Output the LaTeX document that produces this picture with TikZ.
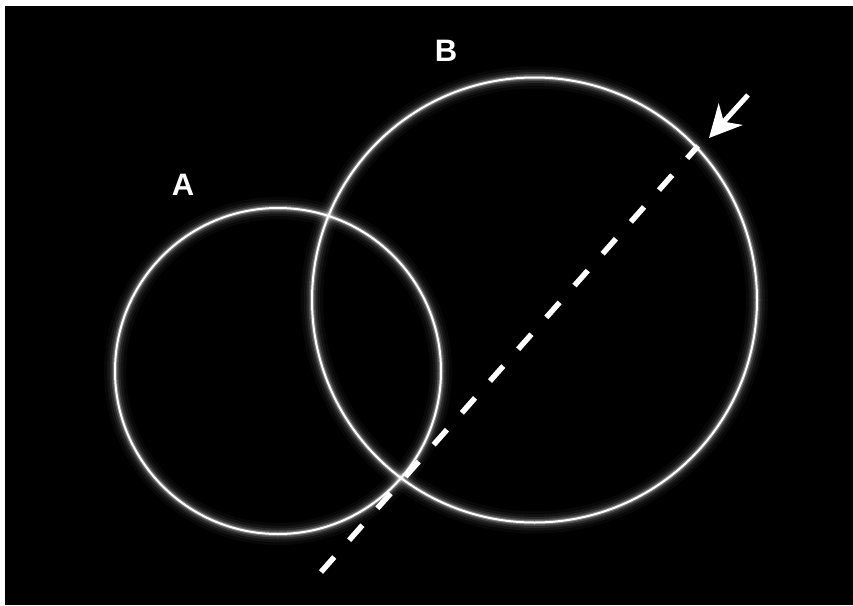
\documentclass[tikz,border=0pt]{standalone}
\usepackage{fontspec}
\setmainfont{Liberation Sans}
\usepackage{tikz}
\usetikzlibrary{arrows.meta}

\begin{document}
\begin{tikzpicture}[
  x=1pt, y=-1pt,
  ring/.style={circle, draw=white, line width=2pt, inner sep=0pt, outer sep=0pt,
               preaction={draw=white, line width=22pt, draw opacity=0.03},
               preaction={draw=white, line width=16pt, draw opacity=0.05},
               preaction={draw=white, line width=11pt, draw opacity=0.09},
               preaction={draw=white, line width=7pt, draw opacity=0.16},
               preaction={draw=white, line width=4pt, draw opacity=0.3}},
  lbl/.style={text=white, font=\bfseries\fontsize{31}{31}\selectfont, inner sep=0pt},
  cut/.style={draw=white, line width=5.5pt, dash pattern=on 20pt off 22.5pt},
  arr/.style={-{Stealth[length=32pt, width=32pt, inset=10pt]}, draw=white, line width=5pt}
]
  \useasboundingbox (0,0) rectangle (853,605);
  \fill[white] (0,0) rectangle (853,605);
  \fill[black] (5,6) rectangle (853,605);

  \node[ring, minimum size=326pt] (circA) at (278,371) {};
  \node[ring, minimum size=445pt] (circB) at (534.5,300) {};

  \node[lbl] (labA) at (183,185) {A};
  \node[lbl] (labB) at (446,51) {B};

  \coordinate (cutlo) at (321,572);
  \coordinate (cuthi) at (698,146);
  \draw[cut] (cutlo) -- (cuthi);

  \coordinate (arrtail) at (748,95);
  \coordinate (arrtip) at (709,138);
  \draw[arr] (arrtail) -- (arrtip);
\end{tikzpicture}
\end{document}
